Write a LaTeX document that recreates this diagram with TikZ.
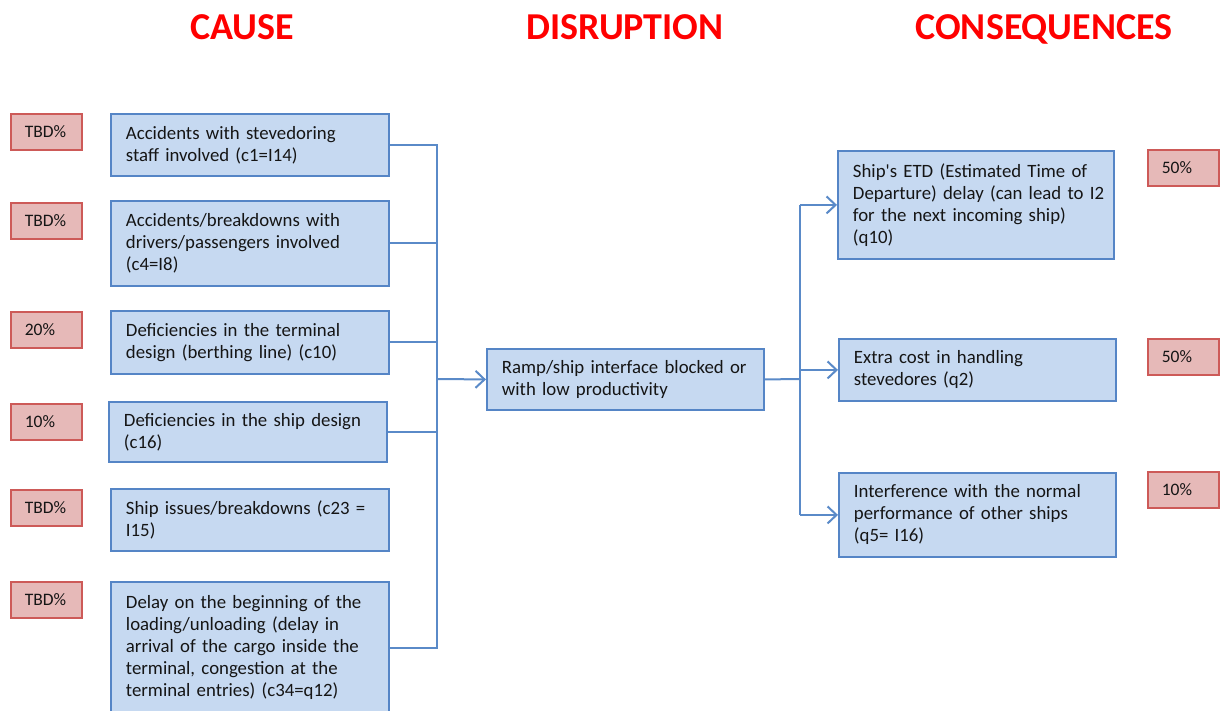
\documentclass[tikz,border=0pt]{standalone}
\usepackage{fontspec}
\setmainfont{Carlito}
\usetikzlibrary{arrows.meta}
\definecolor{boxfill}{HTML}{C6D9F1}
\definecolor{boxline}{HTML}{5585C6}
\definecolor{wire}{HTML}{5A8AC8}
\definecolor{pctfill}{HTML}{E6B9B8}
\definecolor{pctline}{HTML}{CD5A58}
\definecolor{ink}{HTML}{151515}
\tikzset{
  heading/.style={anchor=base, text=red, font=\fontsize{38}{46}\selectfont\bfseries},
  itembox/.style={draw=boxline, line width=1.9pt, fill=boxfill, anchor=north west,
    inner xsep=15pt, inner ysep=0pt, align=left, text=ink,
    font=\fontsize{18.8}{22}\selectfont},
  pctbox/.style={draw=pctline, line width=1.7pt, fill=pctfill, anchor=north west,
    minimum width=71pt, minimum height=36pt, inner xsep=14pt, inner ysep=0pt,
    text width=43pt, align=left, text=ink, font=\fontsize{17.5}{20}\selectfont},
  conn/.style={draw=wire, line width=2pt},
  arrow/.style={conn, -{Straight Barb[length=9pt,width=17pt]}}
}
% one unbreakable text line
\newcommand{\tl}[1]{\mbox{#1}}
\begin{document}
\begin{tikzpicture}[x=1pt,y=-1pt]
\useasboundingbox (0,0) rectangle (1222,711);

% column headings
\node[heading] (hc) at (242,40) {CAUSE};
\node[heading] (hd) at (625,40) {DISRUPTION};
\node[heading] (hq) at (1044,40) {CONSEQUENCES};

% causes
\node[itembox, minimum width=278pt, minimum height=62pt, text width=248pt] (c1) at (110,113)
  {\tl{Accidents with stevedoring}\\\tl{staff involved (c1=I14)}};
\node[itembox, minimum width=278pt, minimum height=85pt, text width=248pt] (c2) at (110,200)
  {\tl{Accidents/breakdowns with}\\\tl{drivers/passengers involved}\\\tl{(c4=I8)}};
\node[itembox, minimum width=278pt, minimum height=63pt, text width=248pt] (c3) at (110,310)
  {\tl{Deficiencies in the terminal}\\\tl{design (berthing line) (c10)}};
\node[itembox, minimum width=278pt, minimum height=60pt, text width=248pt] (c4) at (108,401)
  {\tl{Deficiencies in the ship design}\\\tl{(c16)}};
\node[itembox, minimum width=278pt, minimum height=62pt, text width=248pt] (c5) at (110,488)
  {\tl{Ship issues/breakdowns (c23 =}\\\tl{I15)}};
\node[itembox, minimum width=278pt, minimum height=132pt, text width=248pt] (c6) at (110,581)
  {\tl{Delay on the beginning of the}\\\tl{loading/unloading (delay in}\\\tl{arrival of the cargo inside the}\\\tl{terminal, congestion at the}\\\tl{terminal entries) (c34=q12)}};

% cause shares
\node[pctbox] (p1) at (10,113) {TBD\%};
\node[pctbox] (p2) at (10,202) {TBD\%};
\node[pctbox] (p3) at (10,311) {20\%};
\node[pctbox] (p4) at (10,403) {10\%};
\node[pctbox] (p5) at (10,489) {TBD\%};
\node[pctbox] (p6) at (10,581) {TBD\%};

% disruption
\node[itembox, minimum width=277pt, minimum height=61pt, text width=247pt] (d) at (486,348)
  {\tl{Ramp/ship interface blocked or}\\\tl{with low productivity}};

% consequences
\node[itembox, minimum width=276pt, minimum height=108pt, text width=246pt] (q1) at (837,150)
  {\tl{Ship\textquotesingle s ETD (Estimated Time of}\\\tl{Departure) delay (can lead to I2}\\\tl{for the next incoming ship)}\\\tl{(q10)}};
\node[itembox, minimum width=277pt, minimum height=62pt, text width=247pt] (q2) at (838,338)
  {\tl{Extra cost in handling}\\\tl{stevedores (q2)}};
\node[itembox, minimum width=277pt, minimum height=84pt, text width=247pt] (q3) at (838,472)
  {\tl{Interference with the normal}\\\tl{performance of other ships}\\\tl{(q5= I16)}};

% consequence shares
\node[pctbox] (r1) at (1147,149) {50\%};
\node[pctbox] (r2) at (1147,338) {50\%};
\node[pctbox] (r3) at (1147,471) {10\%};

% collecting bus on the cause side
\coordinate (busL) at (437,379);
\foreach \c in {c1,c2,c3,c4,c6}
  \draw[conn] (\c.east) -| (busL);
\draw[arrow] (busL) -- (d.west);

% distributing bus on the consequence side
\coordinate (busR) at (800,379);
\draw[conn] (d.east) -- (busR);
\draw[conn] (busR) -- (busR |- q1.west);
\draw[conn] (busR) -- (busR |- q3.west);
\draw[arrow] (busR |- q1.west) -- (q1.west);
\draw[arrow] (busR |- q2.west) -- (q2.west);
\draw[arrow] (busR |- q3.west) -- (q3.west);
\end{tikzpicture}
\end{document}
